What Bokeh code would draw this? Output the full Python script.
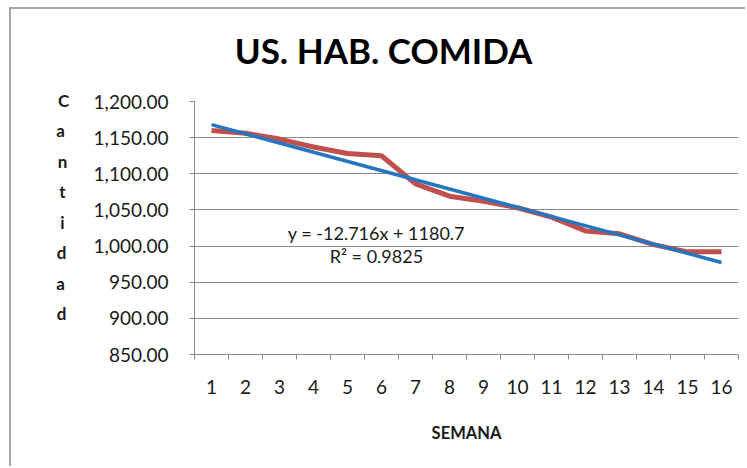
from bokeh.plotting import figure
from bokeh.models import Label, FixedTicker, NumeralTickFormatter, Range1d
from bokeh.embed import file_html
from bokeh.resources import INLINE

# ---- data ----
semana = list(range(1, 17))
cantidad = [1160, 1156, 1148, 1137, 1128, 1125, 1086, 1069,
            1062, 1053, 1040, 1021, 1017, 1002, 992, 992]
slope = -12.716
intercept = 1180.7
y_ticks = [850, 900, 950, 1000, 1050, 1100, 1150, 1200]
title_text = "US. HAB. COMIDA"
y_title = "Cantidad"
x_title = "SEMANA"
eq_text = "y = -12.716x + 1180.7"
r2_text = "R\u00b2 = 0.9825"

W, H = 736, 459
p = figure(width=W, height=H, output_backend="svg", toolbar_location=None,
           x_range=Range1d(0.5, 16.5), y_range=Range1d(850, 1200),
           min_border_left=183, min_border_right=9, min_border_top=92,
           min_border_bottom=114)
p.styles = {"border-top": "2px solid #a6a6a6", "border-left": "2px solid #a6a6a6",
            "margin-left": "9px", "margin-top": "7px"}
p.outline_line_color = None
p.background_fill_color = "white"
p.border_fill_color = "white"

FONT = "Lato"
GRAY = "#8a8a8a"
TXT = "#1a1a1a"

# x axis
p.xaxis.ticker = FixedTicker(ticks=semana, minor_ticks=[i + 0.5 for i in range(0, 17)])
p.xaxis.major_tick_out = 0
p.xaxis.major_tick_in = 0
p.xaxis.minor_tick_out = 5
p.xaxis.minor_tick_in = 0
p.xaxis.minor_tick_line_color = GRAY
p.xaxis.axis_line_color = GRAY
p.xaxis.major_label_standoff = 20
p.xaxis.major_label_text_font = FONT
p.xaxis.major_label_text_font_size = "19px"
p.xaxis.major_label_text_color = TXT
p.xaxis.axis_label = x_title
p.xaxis.axis_label_text_font = FONT
p.xaxis.axis_label_text_font_style = "bold"
p.xaxis.axis_label_text_font_size = "16.5px"
p.xaxis.axis_label_text_color = TXT
p.xaxis.axis_label_standoff = 26
p.xgrid.grid_line_color = None

# y axis
p.yaxis.ticker = FixedTicker(ticks=y_ticks)
p.yaxis.formatter = NumeralTickFormatter(format="0,0.00")
p.yaxis.major_tick_out = 5
p.yaxis.major_tick_in = 0
p.yaxis.minor_tick_line_color = None
p.yaxis.major_tick_line_color = GRAY
p.yaxis.axis_line_color = GRAY
p.yaxis.major_label_standoff = 21
p.yaxis.major_label_text_font = FONT
p.yaxis.major_label_text_font_size = "19px"
p.yaxis.major_label_text_color = TXT
p.ygrid.grid_line_color = GRAY
p.ygrid.grid_line_width = 1

# series
p.line(semana, cantidad, line_color="#C0504D", line_width=5)
x_tr = [semana[0], semana[-1]]
y_tr = [slope * x + intercept for x in x_tr]
p.line(x_tr, y_tr, line_color="#2376BF", line_width=3.5)

# trendline labels
p.add_layout(Label(x=5.85, y=1018, text=eq_text, text_font=FONT, text_font_size="18px",
                   text_align="center", text_baseline="middle", text_color=TXT))
p.add_layout(Label(x=5.85, y=986, text=r2_text, text_font=FONT, text_font_size="18px",
                   text_align="center", text_baseline="middle", text_color=TXT))

# title (in a side panel so it is not clipped to the frame)
FL, FT, FB = 194, 101, 354
p.add_layout(Label(x=383 - FL, y=FT - 49, x_units="screen", y_units="screen", text=title_text,
                   text_font=FONT, text_font_style="bold", text_font_size="35px",
                   text_align="center", text_baseline="middle", text_color="#000000"), "above")

# stacked y title: each letter sits in its own left panel; shift them back into one column
ys = [100 + i * (313 - 100) / 7 for i in range(len(y_title))]
x_shift = [-16, -10, 2, 8, 12, 21, 29, 40]
for ch, yy, dx in zip(y_title, ys, x_shift):
    p.add_layout(Label(x=dx, y=FB - yy, x_units="screen", y_units="screen", text=ch,
                       text_font=FONT, text_font_style="bold", text_font_size="17px",
                       text_align="center", text_baseline="middle", text_color=TXT), "left")

open("out.html", "w").write(file_html(p, INLINE))
